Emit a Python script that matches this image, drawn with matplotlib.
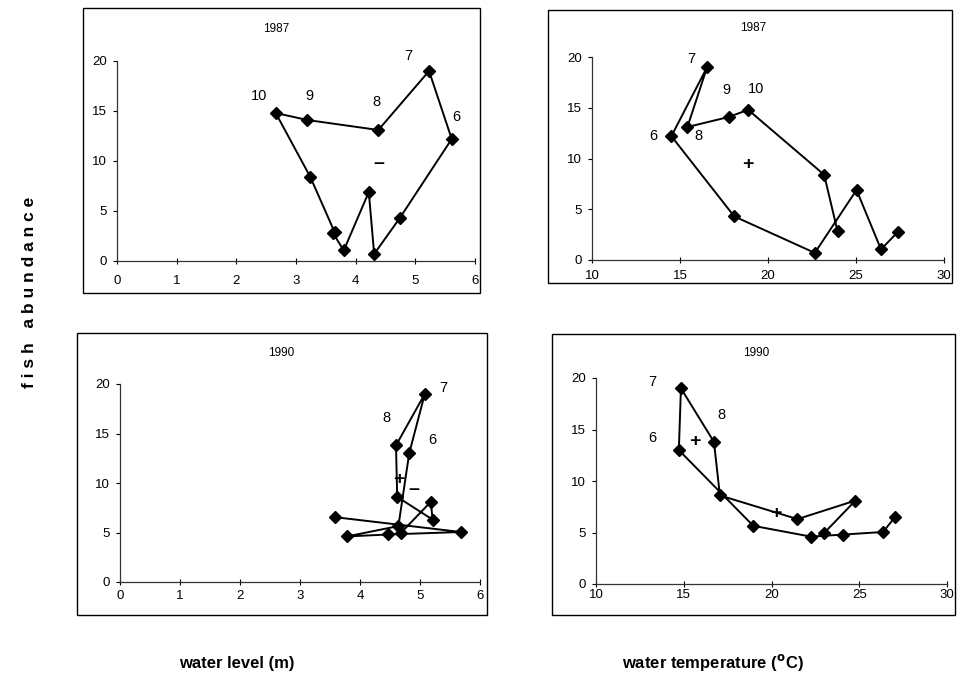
import matplotlib
matplotlib.use('Agg')
import matplotlib.pyplot as plt
from matplotlib.patches import Rectangle

plt.rcParams['font.family'] = ['Liberation Sans', 'DejaVu Sans']

# monthly values, January .. December
months = [1, 2, 3, 4, 5, 6, 7, 8, 9, 10, 11, 12]

abund_1987 = [2.8, 1.05, 6.9, 0.7, 4.3, 12.2, 19.0, 13.1, 14.1, 14.8, 8.4, 2.85]
level_1987 = [3.62, 3.80, 4.22, 4.31, 4.74, 5.61, 5.23, 4.38, 3.19, 2.66, 3.24, 3.65]
temp_1987 = [27.4, 26.42, 25.03, 22.66, 18.08, 14.51, 16.54, 15.42, 17.79, 18.87, 23.19, 23.95]

abund_1990 = [6.55, 5.05, 4.8, 4.6, 5.65, 13.0, 19.0, 13.8, 8.6, 6.3, 8.1, 4.95]
level_1990 = [3.58, 5.68, 4.47, 3.78, 4.64, 4.82, 5.08, 4.60, 4.62, 5.21, 5.18, 4.68]
temp_1990 = [27.06, 26.36, 24.08, 22.24, 18.96, 14.72, 14.84, 16.72, 17.06, 21.48, 24.78, 23.0]

# centre marks (+ / -) drawn inside the loops
marks_lvl_1987 = [('\u2013', 4.38, 9.75)]
marks_tmp_1987 = [('+', 18.87, 9.44)]
marks_lvl_1990 = [('+', 4.65, 10.4), ('\u2013', 4.89, 9.38)]
marks_tmp_1990 = [('+', 15.64, 13.84), ('+', 20.23, 6.81)]

# which months get a label, with pixel offsets for the text
labels_lvl_1987 = {10: (-17, 17), 9: (2, 24), 8: (-2, 28), 7: (-21, 15), 6: (5, 22)}
labels_tmp_1987 = {7: (-16, 8), 9: (-3, 27), 10: (8, 21), 6: (-18, 0), 8: (11, -9)}
labels_lvl_1990 = {7: (19, 6), 8: (-10, 27), 6: (23, 13)}
labels_tmp_1990 = {7: (-29, 6), 8: (8, 27), 6: (-27, 12)}

W, H = 957, 673


def fig_rect(l, t, r, b):
    return [l / W, 1 - b / H, (r - l) / W, (b - t) / H]


panels = [
    dict(ax=(117, 61, 475, 261), frame=(83, 8, 480, 293), x=level_1987, y=abund_1987,
         xlim=(0, 6), xticks=range(0, 7), year='1987', labels=labels_lvl_1987,
         marks=marks_lvl_1987, xpad=8.0, ty=1.16, tx=0.446),
    dict(ax=(592, 57, 944, 260), frame=(548, 10, 952, 283), x=temp_1987, y=abund_1987,
         xlim=(10, 30), xticks=range(10, 31, 5), year='1987', labels=labels_tmp_1987,
         marks=marks_tmp_1987, xpad=5.0, ty=1.143, tx=0.458),
    dict(ax=(120, 384, 480, 582), frame=(77, 333, 487, 615), x=level_1990, y=abund_1990,
         xlim=(0, 6), xticks=range(0, 7), year='1990', labels=labels_lvl_1990,
         marks=marks_lvl_1990, xpad=3.5, ty=1.158, tx=0.449),
    dict(ax=(596, 378, 947, 584), frame=(552, 334, 955, 615), x=temp_1990, y=abund_1990,
         xlim=(10, 30), xticks=range(10, 31, 5), year='1990', labels=labels_tmp_1990,
         marks=marks_tmp_1990, xpad=1.5, ty=1.12, tx=0.455),
]

fig = plt.figure(figsize=(W / 100, H / 100), dpi=100)

for p in panels:
    fr = fig_rect(*p['frame'])
    fig.patches.append(Rectangle(fr[:2], fr[2], fr[3], transform=fig.transFigure,
                                 fill=False, edgecolor='black', linewidth=1.0))
    ax = fig.add_axes(fig_rect(*p['ax']))
    ax.plot(p['x'], p['y'], color='black', linewidth=1.4, marker='D',
            markersize=5.8, markerfacecolor='black', markeredgecolor='black',
            clip_on=False)
    for m, (dx, dy) in p['labels'].items():
        i = months.index(m)
        ax.annotate(str(m), (p['x'][i], p['y'][i]), xytext=(dx, dy),
                    textcoords='offset pixels', ha='center', va='center',
                    fontsize=10.5)
    for sym, mx, my in p['marks']:
        ax.text(mx, my, sym, ha='center', va='center', fontsize=14,
                fontweight='bold')
    ax.text(p['tx'], p['ty'], p['year'], transform=ax.transAxes,
            ha='center', va='center', fontsize=8.5)
    ax.set_xlim(*p['xlim'])
    ax.set_ylim(0, 20)
    ax.set_xticks(list(p['xticks']))
    ax.set_yticks([0, 5, 10, 15, 20])
    for s in ['top', 'right']:
        ax.spines[s].set_visible(False)
    for s in ['left', 'bottom']:
        ax.spines[s].set_color('#333333')
        ax.spines[s].set_linewidth(0.9)
    ax.tick_params(axis='x', direction='inout', length=4, width=0.8,
                   labelsize=9.5, pad=p['xpad'])
    ax.tick_params(axis='y', direction='out', length=3, width=0.8,
                   labelsize=9.5, pad=4.2)

fig.text(30 / W, 1 - 292 / H, 'f i s h   a b u n d a n c e', rotation=90,
         ha='center', va='center', fontsize=12.5, fontweight='bold')
fig.text(237 / W, 1 - 668 / H, 'water level (m)', ha='center', va='baseline',
         fontsize=12, fontweight='bold')
fig.text(713 / W, 1 - 668 / H, 'water temperature ($\\mathbf{^o}$C)',
         ha='center', va='baseline', fontsize=12, fontweight='bold')

fig.savefig('out.png', dpi=100)
